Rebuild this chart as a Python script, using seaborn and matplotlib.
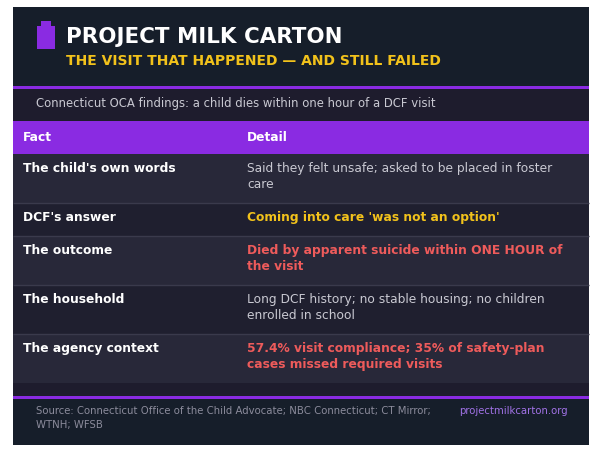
import matplotlib
matplotlib.use("Agg")
import matplotlib.pyplot as plt
import seaborn as sns

# contenido de la tabla
title = "PROJECT MILK CARTON"
subtitle = "THE VISIT THAT HAPPENED — AND STILL FAILED"
band_text = "Connecticut OCA findings: a child dies within one hour of a DCF visit"
col_names = ["Fact", "Detail"]
facts = ["The child's own words", "DCF's answer", "The outcome",
         "The household", "The agency context"]
details = [
    ["Said they felt unsafe; asked to be placed in foster", "care"],
    ["Coming into care 'was not an option'"],
    ["Died by apparent suicide within ONE HOUR of", "the visit"],
    ["Long DCF history; no stable housing; no children", "enrolled in school"],
    ["57.4% visit compliance; 35% of safety-plan", "cases missed required visits"],
]
detail_kind = ["plain", "warn", "alert", "plain", "alert"]
source_lines = ["Source: Connecticut Office of the Child Advocate; NBC Connecticut; CT Mirror;",
                "WTNH; WFSB"]
site = "projectmilkcarton.org"

# colores
NAVY = "#161e2a"
BAND = "#1e1c2d"
ROW_A = "#282839"
ROW_B = "#1f1f2f"
SEP = "#3a3a4c"
PURPLE = "#8a2be2"
kind_style = {"plain": ("#c9c9d2", "normal"),
              "warn": ("#f2c21b", "bold"),
              "alert": ("#ee5b5b", "bold")}

sns.set_theme(style="white")
plt.rcParams["font.family"] = ["DejaVu Sans"]

fig = plt.figure(figsize=(6.02, 4.5), dpi=100)
fig.patch.set_facecolor("white")
ax = fig.add_axes([0, 0, 1, 1])
ax.set_xlim(0, 602)
ax.set_ylim(450, 0)
ax.axis("off")

L, R = 13, 589
W = R - L
FS = 8.85

def band(top, h, color):
    ax.bar(L, h, width=W, bottom=top, align="edge", color=color, linewidth=0)

# cabecera
band(7, 80, NAVY)
band(86, 2.5, PURPLE)
ax.bar(36.5, 23, width=18.5, bottom=26, align="edge", color=PURPLE, linewidth=0)
ax.bar(40.5, 6, width=10.5, bottom=21, align="edge", color=PURPLE, linewidth=0)
ax.text(66, 37, title, color="white", fontsize=15.4, fontweight="bold", va="center")
ax.text(66, 61, subtitle, color="#f2c21b", fontsize=10, fontweight="bold", va="center")

band(88.5, 33, BAND)
ax.text(36, 103, band_text, color="#c9c9d2", fontsize=8.4, va="center")

# encabezado de tabla
band(121, 33, PURPLE)
ax.text(23, 137.5, col_names[0], color="white", fontsize=FS, fontweight="bold", va="center")
ax.text(247, 137.5, col_names[1], color="white", fontsize=FS, fontweight="bold", va="center")

# filas
top = 154
for i, (fact, lines, kind) in enumerate(zip(facts, details, detail_kind)):
    h = 17 + 16 * len(lines)
    band(top, h, ROW_A if i % 2 == 0 else ROW_B)
    if i > 0:
        ax.plot([L, R], [top, top], color=SEP, linewidth=1, solid_capstyle="butt")
    ax.text(23, top + 14.5, fact, color="white", fontsize=FS, fontweight="bold", va="center")
    color, weight = kind_style[kind]
    for j, line in enumerate(lines):
        ax.text(247, top + 14.5 + 16 * j, line, color=color, fontsize=FS,
                fontweight=weight, va="center")
    top += h

band(top, 396 - top, BAND)
band(396, 2.5, PURPLE)
band(398.5, 445 - 398.5, NAVY)

for j, line in enumerate(source_lines):
    ax.text(36, 411 + 14 * j, line, color="#8c8c9c", fontsize=7.3, va="center")
ax.text(568, 411, site, color="#a172e6", fontsize=7.3, va="center", ha="right")

fig.savefig("out.png", dpi=100, facecolor="white")
